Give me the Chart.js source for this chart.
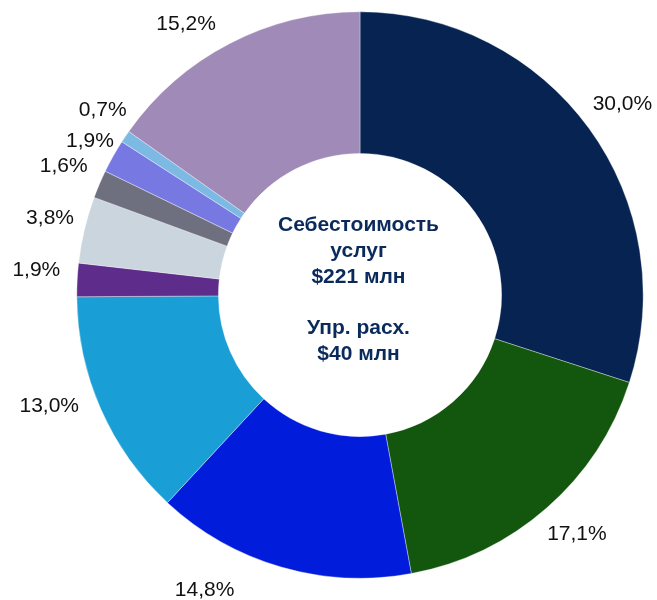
<!DOCTYPE html>
<html>
<head>
<meta charset="utf-8">
<script src="https://cdn.jsdelivr.net/npm/chart.js@4.4.1/dist/chart.umd.min.js"></script>
<style>
  body { margin: 0; background: #fff; }
  #wrap { width: 657px; height: 600px; }
</style>
</head>
<body>
<div id="wrap"><canvas id="cost-chart" width="657" height="600"></canvas></div>
<script>
// slice shares, %, clockwise from 12 o'clock
const categories = ['s1', 's2', 's3', 's4', 's5', 's6', 's7', 's8', 's9', 's10'];
const shares = [30.0, 17.1, 14.8, 13.0, 1.9, 3.8, 1.6, 1.9, 0.7, 15.2];
const sliceColors = [
    '#062352', '#13560d', '#021cdc', '#199ed6', '#5e2c8a',
    '#cad5de', '#6e7080', '#7878e2', '#7cbae4', '#a08ab8'
];
const centerLines = ['Себестоимость', 'услуг', '$221 млн', '', 'Упр. расх.', '$40 млн'];

// small hand tweaks so the labels sit where the original put them
const labelTurn = [0, -1.3, 11.4, 4.2, 1.5, 0.9, 0.8, 0.7, 2, -5];   // degrees
const labelGap = [43, 40, 49, 45, 40, 35, 39, 27, 33, 39];           // px past the rim

// percent labels outside the ring + the caption in the hole
const labelsPlugin = {
    id: 'outerLabels',
    afterDatasetsDraw(chart) {
        const ctx = chart.ctx;
        const meta = chart.getDatasetMeta(0);
        ctx.save();
        ctx.font = '21px "Liberation Sans", Arial, sans-serif';
        ctx.fillStyle = '#111';
        ctx.textAlign = 'center';
        ctx.textBaseline = 'middle';
        meta.data.forEach((arc, i) => {
            const mid = (arc.startAngle + arc.endAngle) / 2 + labelTurn[i] * Math.PI / 180;
            const r = arc.outerRadius + labelGap[i];
            const x = arc.x - 1.5 + Math.cos(mid) * r;
            const y = arc.y + 1 + Math.sin(mid) * r;
            ctx.fillText(shares[i].toFixed(1).replace('.', ',') + '%', x, y);
        });

        // centre caption
        const cx = meta.data[0].x - 1.5;
        const cy = meta.data[0].y - 5;
        ctx.font = 'bold 21px "Liberation Sans", Arial, sans-serif';
        ctx.fillStyle = '#0b2a5c';
        const lh = 25.8;
        const top = cy - lh * (centerLines.length - 1) / 2;
        centerLines.forEach((t, i) => {
            if (t) ctx.fillText(t, cx, top + i * lh);
        });
        ctx.restore();
    }
};

const ctx = document.getElementById('cost-chart').getContext('2d');

const data = {
    labels: categories,
    datasets: [{
        data: shares,
        backgroundColor: sliceColors,
        borderColor: 'rgba(255,255,255,0.6)',
        borderWidth: 0.6
    }]
};

const config = {
    type: 'doughnut',
    data: data,
    options: {
        responsive: false,
        animation: false,
        cutout: '50%',
        layout: {
            padding: { top: 11.5, bottom: 21.5, left: 76.5, right: 13.5 }
        },
        plugins: {
            legend: { display: false },
            tooltip: { enabled: false }
        }
    },
    plugins: [labelsPlugin]
};

const costChart = new Chart(ctx, config);
</script>
</body>
</html>
